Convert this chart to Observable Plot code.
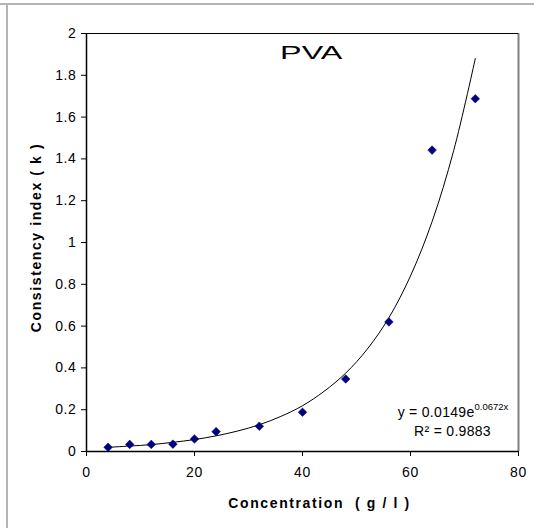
<!DOCTYPE html>
<html>
<head>
<meta charset="utf-8">
<script src="https://cdn.jsdelivr.net/npm/d3@7"></script>
<script src="https://cdn.jsdelivr.net/npm/@observablehq/plot@0.6"></script>
<style>
  html, body { margin: 0; padding: 0; background: #fff; }
  #chart { position: relative; width: 534px; height: 528px; overflow: hidden; }
  .edge-top { position: absolute; left: 0; top: 3px; width: 534px; height: 2px; background: #b4b4b4; }
  .edge-left { position: absolute; left: 6px; top: 3px; width: 2px; height: 525px; background: #b4b4b4; }
  svg { position: absolute; left: 0; top: 0; }
</style>
</head>
<body>
<div id="chart"><div class="edge-top"></div><div class="edge-left"></div></div>
<script>
// Measured data (PVA)
const concentration = [4, 8, 12, 16, 20, 24, 32, 40, 48, 56, 64, 72];
const consistency   = [0.020, 0.034, 0.034, 0.035, 0.060, 0.095, 0.121, 0.188, 0.347, 0.620, 1.442, 1.688];

// Trend line
const trendX = [4, 8, 12, 16, 20, 24, 28, 32, 36, 40, 44, 48, 52, 56, 60, 64, 68, 72];
const trendY = [0.020, 0.026, 0.033, 0.044, 0.057, 0.075, 0.098, 0.128, 0.168, 0.219, 0.288, 0.375, 0.490, 0.640, 0.840, 1.100, 1.440, 1.880];

const xTicks = [0, 20, 40, 60, 80];
const yTicks = [0, 0.2, 0.4, 0.6, 0.8, 1, 1.2, 1.4, 1.6, 1.8, 2];

const titleText = "PVA";
const xLabel = "Concentration  ( g / l )";
const yLabel = "Consistency index ( k )";
const eqMain = "y = 0.0149e";
const eqExp = "0.0672x";
const r2Text = "R² = 0.9883";

const points = concentration.map((c, i) => ({x: c, y: consistency[i]}));
const trend = trendX.map((c, i) => ({x: c, y: trendY[i]}));

const font = "'Liberation Sans', Arial, sans-serif";

const plot = Plot.plot({
  width: 534,
  height: 528,
  marginLeft: 86,
  marginRight: 16,
  marginTop: 33,
  marginBottom: 77,
  style: {fontFamily: font, fontSize: "14px", color: "#000", background: "transparent"},
  x: {domain: [0, 80], label: null},
  y: {domain: [0, 2], label: null},
  marks: [
    Plot.ruleX([80], {stroke: "#808080", strokeWidth: 2}),
    Plot.ruleY([2], {stroke: "#000", strokeWidth: 1}),
    Plot.ruleX([0], {stroke: "#000", strokeWidth: 1.5}),
    Plot.ruleY([0], {stroke: "#000", strokeWidth: 1.5}),
    Plot.axisX({ticks: xTicks, tickSize: 5, tickPadding: 11, fontSize: 14, label: null}),
    Plot.axisY({ticks: yTicks, tickSize: 5, tickPadding: 5, fontSize: 14, label: null, tickFormat: d => String(d)}),
    Plot.line(trend, {x: "x", y: "y", stroke: "#000", strokeWidth: 1, curve: "catmull-rom"}),
    Plot.dot(points, {x: "x", y: "y", symbol: "diamond2", r: 3.9, fill: "#000080", stroke: "#000080", strokeWidth: 0.5}),
    Plot.text([titleText], {frameAnchor: "top", dx: 9, dy: 20, fontSize: 18.5, lineAnchor: "middle", fill: "#000"}),
    Plot.text([eqMain], {frameAnchor: "bottom-right", dx: -44, dy: -35, textAnchor: "end", lineAnchor: "bottom", fontSize: 14}),
    Plot.text([eqExp], {frameAnchor: "bottom-right", dx: -44, dy: -42, textAnchor: "start", lineAnchor: "bottom", fontSize: 9.5}),
    Plot.text([r2Text], {frameAnchor: "bottom-right", dx: -66, dy: -16, textAnchor: "middle", lineAnchor: "bottom", fontSize: 14}),
    Plot.text([xLabel], {frameAnchor: "bottom", dx: 17, dy: 52, fontSize: 14, fontWeight: "bold", lineAnchor: "middle"}),
    Plot.text([yLabel], {frameAnchor: "left", textAnchor: "middle", dx: -50, dy: -5, rotate: -90, fontSize: 14, fontWeight: "bold", lineAnchor: "middle"})
  ]
});
document.getElementById("chart").appendChild(plot);

// Typographic tweaks to match the reference rendering
const svg = d3.select(plot);
svg.selectAll("text").each(function() {
  const t = this.textContent;
  const sel = d3.select(this);
  if (t === xLabel || t === yLabel) {
    sel.attr("letter-spacing", "1.6px");
  } else if (t === titleText) {
    const b = this.getBBox();
    const cx = b.x + b.width / 2;
    const existing = sel.attr("transform") || "";
    sel.attr("transform", `${existing} translate(${cx},0) scale(1.75,1) translate(${-cx},0)`);
  } else if (t === eqMain || t === r2Text) {
    sel.attr("letter-spacing", "0.3px");
  }
});
svg.selectAll("g[aria-label$='tick label'] text").attr("letter-spacing", "0.6px");
</script>
</body>
</html>
